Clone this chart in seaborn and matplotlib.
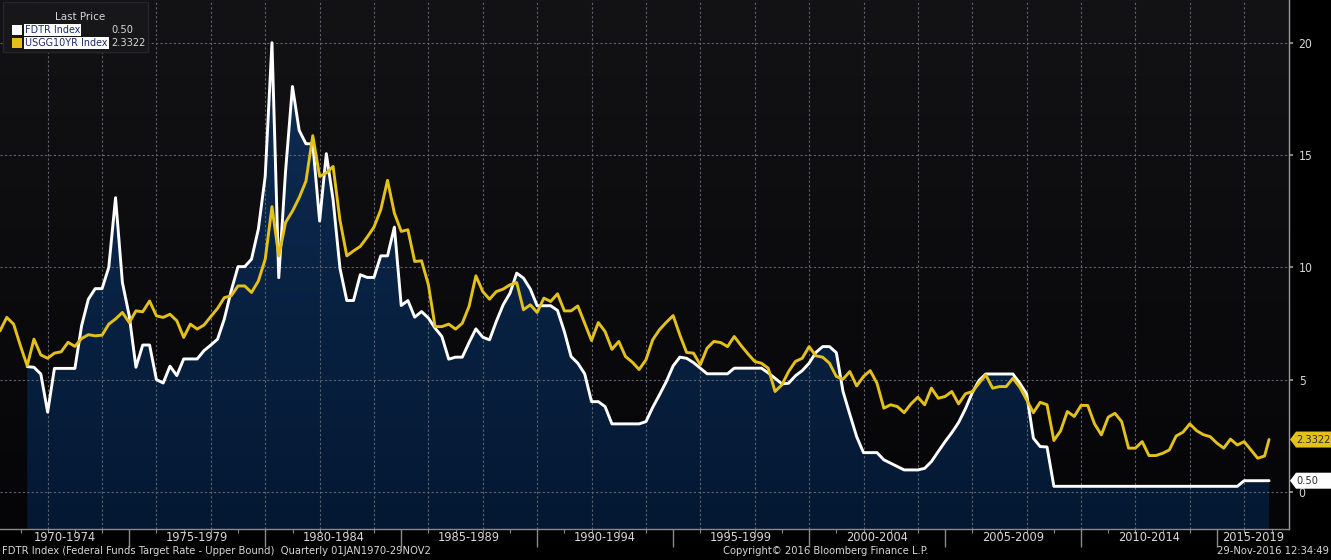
import numpy as np
import pandas as pd
import matplotlib
matplotlib.use("Agg")
import matplotlib.pyplot as plt
import matplotlib.dates as mdates
import matplotlib.transforms as mtransforms
from matplotlib import font_manager as fm
from matplotlib.colors import LinearSegmentedColormap
from matplotlib.patches import Rectangle, Polygon
import seaborn as sns

# quarter-end values Q1 1970 .. Q3 2016, then last price on 29 Nov 2016
usgg10yr = [
    7.17, 7.77, 7.47, 6.50, 5.62, 6.80, 6.10, 5.95, 6.18, 6.24, 6.66, 6.48,
    6.83, 7.00, 6.95, 6.98, 7.47, 7.70, 7.99, 7.54, 8.06, 8.02, 8.50, 7.84,
    7.77, 7.91, 7.62, 6.88, 7.47, 7.25, 7.43, 7.81, 8.17, 8.65, 8.73, 9.17,
    9.17, 8.88, 9.39, 10.36, 12.70, 10.50, 12.00, 12.50, 13.10, 13.83, 15.86, 14.05,
    14.20, 14.49, 12.10, 10.51, 10.73, 10.93, 11.34, 11.79, 12.56, 13.87, 12.41, 11.60,
    11.67, 10.26, 10.29, 9.22, 7.36, 7.36, 7.47, 7.25, 7.51, 8.26, 9.62, 8.92,
    8.58, 8.92, 9.03, 9.22, 9.32, 8.11, 8.33, 7.99, 8.63, 8.48, 8.82, 8.06,
    8.06, 8.28, 7.51, 6.74, 7.54, 7.14, 6.35, 6.70, 6.03, 5.78, 5.45, 5.88,
    6.77, 7.22, 7.55, 7.85, 6.99, 6.21, 6.18, 5.66, 6.40, 6.70, 6.65, 6.47,
    6.92, 6.52, 6.15, 5.81, 5.73, 5.51, 4.47, 4.77, 5.36, 5.81, 5.95, 6.47,
    6.06, 6.00, 5.73, 5.14, 5.02, 5.36, 4.72, 5.14, 5.40, 4.84, 3.73, 3.88,
    3.80, 3.53, 3.92, 4.22, 3.88, 4.62, 4.17, 4.25, 4.47, 3.92, 4.37, 4.47,
    4.84, 5.21, 4.62, 4.69, 4.69, 5.06, 4.66, 4.10, 3.53, 3.99, 3.88, 2.29,
    2.72, 3.58, 3.36, 3.85, 3.85, 3.03, 2.54, 3.33, 3.50, 3.13, 1.95, 1.95,
    2.24, 1.62, 1.62, 1.72, 1.87, 2.49, 2.66, 3.03, 2.73, 2.55, 2.46, 2.17,
    1.95, 2.35, 2.09, 2.24, 1.87, 1.50, 1.60, 2.3322,
]

fdtr = [
    np.nan, np.nan, np.nan, np.nan, 5.58, 5.55, 5.25, 3.55, 5.50, 5.50, 5.50, 5.50,
    7.40, 8.58, 9.05, 9.05, 10.00, 13.10, 9.32, 7.84, 5.55, 6.54, 6.54, 5.00,
    4.85, 5.60, 5.18, 5.92, 5.92, 5.92, 6.29, 6.54, 6.80, 7.70, 8.95, 10.03,
    10.03, 10.36, 11.70, 14.05, 20.00, 9.54, 14.30, 18.05, 16.10, 15.50, 15.50, 12.06,
    15.06, 13.00, 9.96, 8.52, 8.52, 9.67, 9.55, 9.55, 10.51, 10.51, 11.79, 8.30,
    8.52, 7.78, 8.03, 7.74, 7.29, 6.92, 5.91, 6.00, 6.00, 6.65, 7.26, 6.89,
    6.77, 7.59, 8.33, 8.85, 9.74, 9.52, 9.03, 8.29, 8.29, 8.29, 8.08, 7.14,
    6.03, 5.73, 5.26, 4.02, 4.02, 3.80, 3.03, 3.03, 3.03, 3.03, 3.03, 3.13,
    3.76, 4.32, 4.91, 5.61, 6.00, 5.95, 5.76, 5.51, 5.26, 5.26, 5.26, 5.26,
    5.51, 5.51, 5.51, 5.51, 5.51, 5.30, 5.06, 4.81, 4.84, 5.17, 5.40, 5.73,
    6.21, 6.47, 6.47, 6.20, 4.47, 3.46, 2.46, 1.75, 1.75, 1.75, 1.43, 1.28,
    1.13, 0.98, 0.98, 0.98, 1.05, 1.35, 1.80, 2.24, 2.64, 3.09, 3.70, 4.42,
    4.96, 5.25, 5.25, 5.25, 5.25, 5.25, 4.84, 4.37, 2.39, 2.02, 2.00, 0.25,
    0.25, 0.25, 0.25, 0.25, 0.25, 0.25, 0.25, 0.25, 0.25, 0.25, 0.25, 0.25,
    0.25, 0.25, 0.25, 0.25, 0.25, 0.25, 0.25, 0.25, 0.25, 0.25, 0.25, 0.25,
    0.25, 0.25, 0.25, 0.50, 0.50, 0.50, 0.50, 0.50,
]

period_labels = ["1970-1974", "1975-1979", "1980-1984", "1985-1989", "1990-1994",
                 "1995-1999", "2000-2004", "2005-2009", "2010-2014", "2015-2019"]
y_ticks = [0, 5, 10, 15, 20]

quarters = pd.period_range("1970Q1", "2016Q3", freq="Q").end_time.normalize()
dates = list(quarters) + [pd.Timestamp("2016-11-29")]
df = pd.DataFrame({"date": dates, "FDTR": fdtr, "USGG10YR": usgg10yr})

YELLOW = "#e3c11a"
GREY = "#d6d6d6"

sns.set_theme(style="dark")

# pick a narrow face if one is installed, else shrink DejaVu
family, stretch, fscale = "DejaVu Sans", "normal", 0.8
try:
    fm.findfont(fm.FontProperties(family="Liberation Sans Narrow"), fallback_to_default=False)
    family, fscale = "Liberation Sans Narrow", 1.0
except Exception:
    p = fm.findfont(fm.FontProperties(family="DejaVu Sans", stretch="condensed"))
    if "Condensed" in p:
        stretch, fscale = "condensed", 0.92
plt.rcParams["font.family"] = [family, "DejaVu Sans"]
plt.rcParams["font.stretch"] = stretch


def fs(v):
    return v * fscale


W, H = 1331, 560
fig = plt.figure(figsize=(W / 100, H / 100), dpi=100, facecolor="black")
ax = fig.add_axes([0, 31 / H, 1289 / W, 529 / H])
ax.set_facecolor("#0b0b0d")

ylo, yhi = -1.65, 21.9
xlo, xhi = pd.Timestamp("1970-03-31"), pd.Timestamp("2017-08-24")

sns.lineplot(data=df, x="date", y="FDTR", color="white", lw=2.1, ax=ax, zorder=4)
sns.lineplot(data=df, x="date", y="USGG10YR", color=YELLOW, lw=2.1, ax=ax, zorder=5)

# background gradient
bg_cmap = LinearSegmentedColormap.from_list("bg", ["#050507", "#131316"])
ax.imshow(np.linspace(0, 1, 256).reshape(-1, 1), extent=[0, 1, 0, 1], origin="lower",
          transform=ax.transAxes, cmap=bg_cmap, aspect="auto", zorder=0)

# navy area under FDTR
fill = ax.fill_between(df["date"], df["FDTR"], ylo, facecolor="none", edgecolor="none")
fill_cmap = LinearSegmentedColormap.from_list("fill", ["#041832", "#0e2d55"])
x0, x1 = mdates.date2num(dates[0]), mdates.date2num(dates[-1])
grad = ax.imshow(np.linspace(0, 1, 256).reshape(-1, 1), extent=[x0, x1, ylo, 20.5],
                 origin="lower", cmap=fill_cmap, aspect="auto", zorder=1)
grad.set_clip_path(fill.get_paths()[0], transform=ax.transData)

ax.set_xlim(xlo, xhi)
ax.set_ylim(ylo, yhi)
ax.set_xlabel("")
ax.set_ylabel("")

# grid
ax.set_yticks(y_ticks)
ax.grid(False)
for v in y_ticks:
    ax.axhline(v, color="#5e636c", lw=0.8, ls=(0, (2, 2)), zorder=2)
for yr in range(1972, 2018, 2):
    ax.axvline(pd.Timestamp(f"{yr}-01-01"), color="#5e636c", lw=0.8, ls=(0, (2, 2)), zorder=2)

# axes / spines
for s in ["left", "top"]:
    ax.spines[s].set_visible(False)
ax.spines["right"].set_color("#9a9a9a")
ax.spines["bottom"].set_color("#8a8a8a")
for s in ["right", "bottom"]:
    ax.spines[s].set_linewidth(1)
    ax.spines[s].set_visible(True)

ax.yaxis.tick_right()
ax.tick_params(axis="y", colors="#9a9a9a", labelcolor=GREY, labelsize=fs(9.5), length=3, pad=4)
ax.xaxis.set_major_locator(mdates.YearLocator(5))
ax.xaxis.set_minor_locator(mdates.YearLocator(1))
ax.xaxis.set_major_formatter(plt.NullFormatter())
ax.tick_params(axis="x", which="major", colors="#8a8a8a", length=13, width=1, direction="out", bottom=True)
ax.tick_params(axis="x", which="minor", colors="#8a8a8a", length=3, width=0.8, direction="out", bottom=True)

# period labels centred in the visible part of each 5-year block
xt = mtransforms.blended_transform_factory(ax.transData, ax.transAxes)
lo, hi = mdates.date2num(xlo), mdates.date2num(xhi)
for lab in period_labels:
    start = int(lab[:4])
    a = max(mdates.date2num(pd.Timestamp(f"{start}-01-01")), lo)
    b = min(mdates.date2num(pd.Timestamp(f"{start + 5}-01-01")), hi)
    ax.text((a + b) / 2, -8.5 / 529, lab, transform=xt, ha="center", va="center",
            color=GREY, fontsize=fs(10))

# last price tags on the right
yt = mtransforms.blended_transform_factory(ax.transAxes, ax.transData)
px = 1 / 1289
for val, txt, fc in [(usgg10yr[-1], "2.3322", YELLOW), (fdtr[-1], "0.50", "white")]:
    h = 8 / 22.45
    tip = 1.0 + 1 * px
    verts = [(tip, val), (tip + 6 * px, val + h), (1 + 42 * px, val + h),
             (1 + 42 * px, val - h), (tip + 6 * px, val - h)]
    ax.add_patch(Polygon(verts, closed=True, transform=yt, facecolor=fc,
                         edgecolor="none", clip_on=False, zorder=10))
    ax.text(1 + 7 * px, val, txt, transform=yt, ha="left", va="center",
            color="#2a2a2a", fontsize=fs(8.6), zorder=11, clip_on=False)

# legend box
fig.patches.append(Rectangle((3 / W, 1 - 52 / H), 145 / W, 50 / H, transform=fig.transFigure,
                             facecolor="#17171a", edgecolor="#26262a", lw=1, zorder=20))
fig.text(80 / W, 1 - 17 / H, "Last Price", color=GREY, fontsize=fs(9), ha="center", va="center", zorder=21)
rows = [("FDTR Index", "0.50", "white", 30), ("USGG10YR Index", "2.3322", YELLOW, 43)]
for name, last, c, yy in rows:
    fig.patches.append(Rectangle((12 / W, 1 - (yy + 5) / H), 10 / W, 10 / H, transform=fig.transFigure,
                                 facecolor=c, edgecolor="none", zorder=21))
    fig.text(25 / W, 1 - yy / H, name, color="#1c2b66", fontsize=fs(8.4), ha="left", va="center",
             zorder=22, bbox=dict(boxstyle="square,pad=0.1", fc="white", ec="none"))
    fig.text(111 / W, 1 - yy / H, last, color=GREY, fontsize=fs(8.6), ha="left", va="center", zorder=22)

# footer
fy = 1 - 551 / H
fig.text(2 / W, fy, "FDTR Index (Federal Funds Target Rate - Upper Bound)  Quarterly 01JAN1970-29NOV2",
         color=GREY, fontsize=fs(8.7), ha="left", va="center")
fig.text(723 / W, fy, "Copyright\u00a9 2016 Bloomberg Finance L.P.", color=GREY, fontsize=fs(8.7),
         ha="left", va="center")
fig.text(1329 / W, fy, "29-Nov-2016 12:34:49", color=GREY, fontsize=fs(8.7), ha="right", va="center")

fig.savefig("out.png", dpi=100, facecolor="black")
